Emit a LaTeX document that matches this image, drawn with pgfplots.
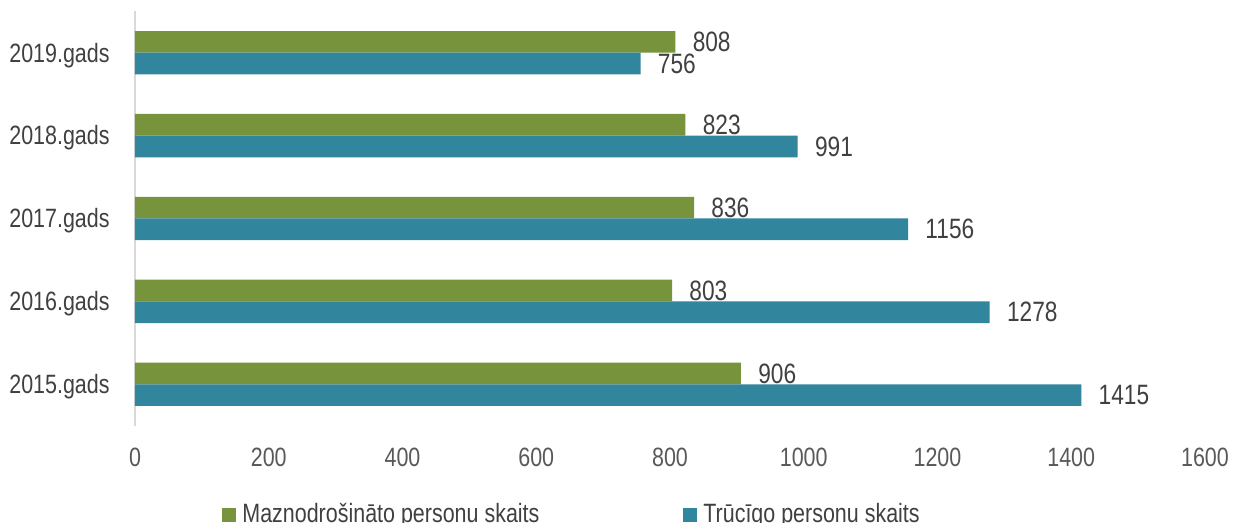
\documentclass[border=0pt]{standalone}
\usepackage{fontspec}
\setmainfont{Liberation Sans}[FakeStretch=0.81]
\usepackage{pgfplots}
\pgfplotsset{compat=1.18}
\definecolor{cgreen}{HTML}{77933C}
\definecolor{cblue}{HTML}{31859C}
\definecolor{axgray}{HTML}{D9D9D9}
\definecolor{txtdark}{HTML}{404040}
\definecolor{txtgray}{HTML}{595959}
\begin{document}
\begin{tikzpicture}
\begin{axis}[
  at={(0,0)}, anchor=south west,
  scale only axis, width=535pt, height=207.25pt,
  xbar, bar width=10.85pt,
  xmin=0, xmax=1600, ymin=-0.5, ymax=4.5,
  xtick={0,200,...,1600},
  ytick={0,1,2,3,4},
  yticklabels={2015.gads,2016.gads,2017.gads,2018.gads,2019.gads},
  axis lines=left, axis line style={-},
  x axis line style={draw=none},
  y axis line style={draw=axgray, line width=1pt},
  major tick length=0pt, tick style={draw=none},
  /pgf/number format/assume math mode=true,
  /pgf/number format/1000 sep={},
  xticklabel style={anchor=north, inner sep=0pt, yshift=-11pt, text=txtgray, font=\fontsize{13.25}{15}\selectfont},
  yticklabel style={anchor=base east, inner sep=0pt, xshift=-12.5pt, yshift=-4.7pt, text=txtdark, font=\fontsize{13.25}{15}\selectfont},
  point meta=x,
  nodes near coords,
  every node near coord/.append style={anchor=west, inner sep=0pt, xshift=8.5pt, text=txtdark, font=\fontsize{14}{16}\selectfont},
  legend columns=2,
  legend image code/.code={\fill[#1] (0pt,-3.5pt) rectangle (7pt,3.5pt);},
  legend style={at={(0,0)}, anchor=west, xshift=43.5pt, yshift=-44.5pt, draw=none, fill=none, inner sep=0pt, column sep=0pt, nodes={inner sep=0pt, text=txtdark, font=\fontsize{13.25}{15}\selectfont}},
]
\addplot[bar shift=5.425pt, fill=cgreen, draw=none] coordinates {(906,0) (803,1) (836,2) (823,3) (808,4)};
\addlegendentry{\makebox[223.5pt][l]{\hspace*{3pt}Maznodrošināto personu skaits}}
\addplot[bar shift=-5.425pt, fill=cblue, draw=none] coordinates {(1415,0) (1278,1) (1156,2) (991,3) (756,4)};
\addlegendentry{\hspace*{3pt}Trūcīgo personu skaits}
\end{axis}
\pgfresetboundingbox
\useasboundingbox (-67.5pt,-48.625pt) rectangle (552pt,212.875pt);
\end{tikzpicture}
\end{document}
